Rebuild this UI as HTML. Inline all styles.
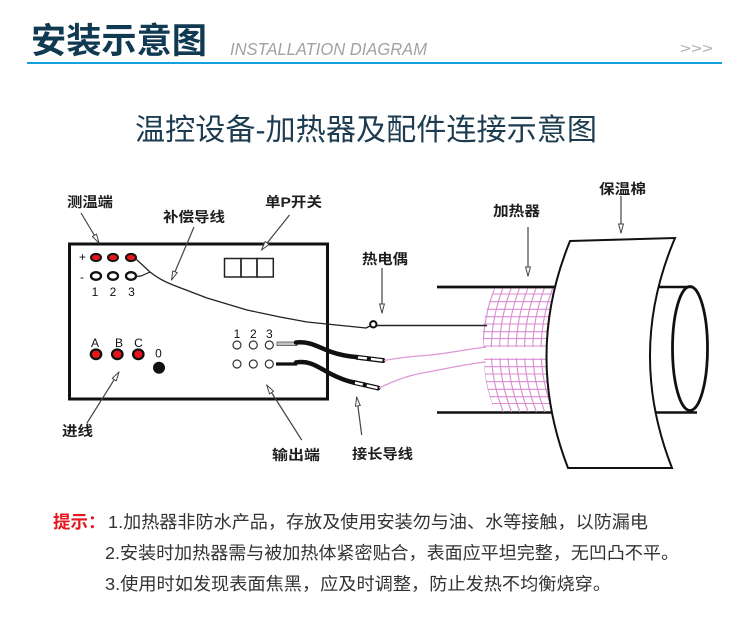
<!DOCTYPE html>
<html>
<head>
<meta charset="utf-8">
<style>
html,body{margin:0;padding:0;background:#fff;}
body{width:750px;height:636px;overflow:hidden;}
svg{display:block;}
.lbl{font-family:"Liberation Sans","Noto Sans CJK SC",sans-serif;font-weight:bold;font-size:14px;fill:#1e1e1e;}
.sm{font-family:"Liberation Sans",sans-serif;font-size:12px;fill:#111;}
.tip{font-family:"Liberation Sans","Noto Sans CJK SC",sans-serif;font-size:17.5px;fill:#333;}
</style>
</head>
<body>
<svg width="750" height="636" viewBox="0 0 750 636" xmlns="http://www.w3.org/2000/svg">
  <defs>
    <marker id="ah" viewBox="0 0 10 6" refX="9.5" refY="3" markerWidth="10" markerHeight="6" markerUnits="userSpaceOnUse" orient="auto">
      <path d="M0.5,0.6 L9.5,3 L0.5,5.4 Z" fill="#fff" stroke="#444" stroke-width="1"/>
    </marker>
    <clipPath id="meshclip">
      <path d="M495,287 Q480,318 483.5,347 L560,347 L560,287 Z"/>
      <path d="M484,358 Q484,388 496,412 L560,412 L560,358 Z"/>
    </clipPath>
  </defs>

  <!-- Header -->
  <text x="31" y="53" font-family="'Liberation Sans','Noto Sans CJK SC',sans-serif" font-size="35" font-weight="bold" fill="#0f3a52" textLength="176" lengthAdjust="spacingAndGlyphs">安装示意图</text>
  <text x="230" y="55" font-family="'Liberation Sans',sans-serif" font-size="17.5" font-style="italic" fill="#a2a2a2" textLength="197" lengthAdjust="spacingAndGlyphs">INSTALLATION DIAGRAM</text>
  <text x="680" y="53" font-family="'Liberation Sans',sans-serif" font-size="14" fill="#aaa" textLength="33" lengthAdjust="spacingAndGlyphs">&gt;&gt;&gt;</text>
  <line x1="27" y1="63" x2="722" y2="63" stroke="#14a0de" stroke-width="2"/>

  <!-- Subtitle -->
  <text x="135" y="140" font-family="'Liberation Sans','Noto Sans CJK SC',sans-serif" font-size="30" fill="#1d3c50" textLength="462" lengthAdjust="spacingAndGlyphs">温控设备-加热器及配件连接示意图</text>

  <!-- Controller box -->
  <rect x="69.5" y="244" width="258" height="155" fill="#fff" stroke="#111" stroke-width="3"/>

  <!-- sensor terminals -->
  <text x="79" y="261" class="sm" font-size="10">+</text>
  <text x="80" y="281" class="sm" font-size="11">-</text>
  <ellipse cx="96" cy="257.5" rx="5" ry="3.6" fill="#e8151c" stroke="#111" stroke-width="2"/>
  <ellipse cx="113" cy="257.5" rx="5" ry="3.6" fill="#e8151c" stroke="#111" stroke-width="2"/>
  <ellipse cx="131" cy="257.5" rx="5" ry="3.6" fill="#e8151c" stroke="#111" stroke-width="2"/>
  <ellipse cx="96" cy="276" rx="5" ry="3.8" fill="#fff" stroke="#111" stroke-width="2.3"/>
  <ellipse cx="113" cy="276" rx="5" ry="3.8" fill="#fff" stroke="#111" stroke-width="2.3"/>
  <ellipse cx="131" cy="276" rx="5" ry="3.8" fill="#fff" stroke="#111" stroke-width="2.3"/>
  <text x="95" y="296" class="sm" text-anchor="middle">1</text>
  <text x="113" y="296" class="sm" text-anchor="middle">2</text>
  <text x="131.5" y="296" class="sm" text-anchor="middle">3</text>

  <!-- switch -->
  <rect x="224.5" y="258.5" width="16.5" height="18.5" fill="none" stroke="#222" stroke-width="1.5"/>
  <rect x="241" y="258.5" width="16" height="18.5" fill="none" stroke="#222" stroke-width="1.5"/>
  <rect x="257" y="258.5" width="16.3" height="18.5" fill="none" stroke="#222" stroke-width="1.5"/>

  <!-- input terminals -->
  <text x="95" y="347" class="sm" text-anchor="middle" font-size="11">A</text>
  <text x="119" y="347" class="sm" text-anchor="middle" font-size="11">B</text>
  <text x="138.5" y="347" class="sm" text-anchor="middle" font-size="11">C</text>
  <text x="158.5" y="357.5" class="sm" text-anchor="middle" font-size="10.5">0</text>
  <ellipse cx="96" cy="354.3" rx="5.2" ry="4.8" fill="#e8151c" stroke="#111" stroke-width="2.3"/>
  <ellipse cx="117.3" cy="354.3" rx="5.2" ry="4.8" fill="#e8151c" stroke="#111" stroke-width="2.3"/>
  <ellipse cx="138.3" cy="354.3" rx="5.2" ry="4.8" fill="#e8151c" stroke="#111" stroke-width="2.3"/>
  <circle cx="159" cy="367.7" r="6" fill="#111"/>

  <!-- output terminals -->
  <text x="237" y="338" class="sm" text-anchor="middle" font-size="11">1</text>
  <text x="253.3" y="338" class="sm" text-anchor="middle" font-size="11">2</text>
  <text x="269.3" y="338" class="sm" text-anchor="middle" font-size="11">3</text>
  <circle cx="237" cy="345" r="4" fill="#fff" stroke="#333" stroke-width="1.2"/>
  <circle cx="253.3" cy="345" r="4" fill="#fff" stroke="#333" stroke-width="1.2"/>
  <circle cx="269.3" cy="345" r="4" fill="#fff" stroke="#333" stroke-width="1.2"/>
  <circle cx="237" cy="364" r="4" fill="#fff" stroke="#333" stroke-width="1.2"/>
  <circle cx="253.3" cy="364" r="4" fill="#fff" stroke="#333" stroke-width="1.2"/>
  <circle cx="269.3" cy="364" r="4" fill="#fff" stroke="#333" stroke-width="1.2"/>

  <!-- compensation wire -->
  <path d="M136,259 L150,272 M136,276.5 L141,276 L150,272" fill="none" stroke="#222" stroke-width="1.2"/>
  <path d="M150,272 Q160,280 173,285 L207,298 L247,310 L280,317 L307,322 L366,328 L371,325.5" fill="none" stroke="#222" stroke-width="1.3" stroke-linejoin="round"/>

  <!-- pipe -->
  <line x1="437" y1="287" x2="693" y2="287" stroke="#111" stroke-width="2.5"/>
  <line x1="437" y1="412.5" x2="697" y2="412.5" stroke="#111" stroke-width="2.5"/>

  <!-- heater mesh -->
  <g clip-path="url(#meshclip)" stroke="#d98cd2" stroke-width="1.1" fill="none">
    <path d="M495,287 Q471,350 495,412"/>
    <path d="M503.3,287 Q479.3,350 503.3,412"/>
    <path d="M511.6,287 Q487.6,350 511.6,412"/>
    <path d="M519.9,287 Q495.9,350 519.9,412"/>
    <path d="M528.2,287 Q504.2,350 528.2,412"/>
    <path d="M536.5,287 Q512.5,350 536.5,412"/>
    <path d="M544.8,287 Q520.8,350 544.8,412"/>
    <path d="M553.1,287 Q529.1,350 553.1,412"/>
    <line x1="470" y1="294" x2="560" y2="294"/>
    <line x1="470" y1="301.7" x2="560" y2="301.7"/>
    <line x1="470" y1="309.3" x2="560" y2="309.3"/>
    <line x1="470" y1="316.7" x2="560" y2="316.7"/>
    <line x1="470" y1="324" x2="560" y2="324"/>
    <line x1="470" y1="331.7" x2="560" y2="331.7"/>
    <line x1="470" y1="338.5" x2="560" y2="338.5"/>
    <line x1="470" y1="346" x2="560" y2="346"/>
    <line x1="470" y1="359.3" x2="560" y2="359.3"/>
    <line x1="470" y1="366.7" x2="560" y2="366.7"/>
    <line x1="470" y1="374" x2="560" y2="374"/>
    <line x1="470" y1="381.7" x2="560" y2="381.7"/>
    <line x1="470" y1="389.3" x2="560" y2="389.3"/>
    <line x1="470" y1="396.7" x2="560" y2="396.7"/>
    <line x1="470" y1="403.5" x2="560" y2="403.5"/>
  </g>
  <line x1="437" y1="287" x2="560" y2="287" stroke="#111" stroke-width="2.5"/>

  <!-- thermocouple -->
  <line x1="376" y1="325.5" x2="487" y2="325.5" stroke="#222" stroke-width="1.4"/>
  <circle cx="373.3" cy="324.3" r="3.2" fill="#fff" stroke="#111" stroke-width="2"/>

  <!-- output cables -->
  <rect x="277" y="342" width="20" height="3.6" fill="#c4c4c4" stroke="#555" stroke-width="0.8"/>
  <path d="M296,342.5 C310,341 318,347 330,351.5 C340,355 348,356.5 358,357.3" fill="none" stroke="#111" stroke-width="4.5" stroke-linecap="round"/>
  <line x1="357" y1="357.3" x2="383" y2="360.5" stroke="#111" stroke-width="5" stroke-linecap="round"/>
  <line x1="358" y1="357.4" x2="382.5" y2="360.4" stroke="#fff" stroke-width="2.4" stroke-dasharray="9 4 13"/>
  <line x1="276" y1="364" x2="297" y2="364" stroke="#111" stroke-width="3.2"/>
  <path d="M296,362.5 C311,360 319,368 331,374 C340,378.5 346,381 354,382.5" fill="none" stroke="#111" stroke-width="4.5" stroke-linecap="round"/>
  <line x1="354" y1="382.5" x2="378" y2="388" stroke="#111" stroke-width="5" stroke-linecap="round"/>
  <line x1="355" y1="382.8" x2="377.5" y2="387.9" stroke="#fff" stroke-width="2.4" stroke-dasharray="8 4 12"/>

  <!-- pink leads -->
  <path d="M384,360.5 C398,358 408,356.5 425,355.5 C445,354 462,350 486,347" fill="none" stroke="#dc98d4" stroke-width="1.3"/>
  <path d="M379,388 C392,382 405,376 425,372.5 C448,368.5 465,364 486,362" fill="none" stroke="#dc98d4" stroke-width="1.3"/>

  <!-- insulation -->
  <path d="M570,241 L675,238 Q626.5,352 672,468 L568,468 Q524,354 570,241 Z" fill="#fff" stroke="#111" stroke-width="2"/>
  <ellipse cx="690" cy="348.5" rx="17.5" ry="62" fill="none" stroke="#111" stroke-width="2.8"/>

  <!-- arrows -->
  <g stroke="#444" stroke-width="1.2" fill="none" marker-end="url(#ah)">
    <line x1="81" y1="213" x2="99" y2="243"/>
    <line x1="194" y1="227" x2="171.5" y2="280"/>
    <line x1="289.5" y1="215" x2="261.5" y2="250"/>
    <line x1="87" y1="423" x2="119" y2="372"/>
    <line x1="301.7" y1="440" x2="266.7" y2="385"/>
    <line x1="382" y1="268" x2="382" y2="313"/>
    <line x1="528" y1="227" x2="528" y2="276"/>
    <line x1="621" y1="196" x2="621" y2="233"/>
    <line x1="361.7" y1="435" x2="356.7" y2="397"/>
  </g>

  <!-- labels -->
  <text x="67" y="207" class="lbl" textLength="46" lengthAdjust="spacingAndGlyphs">测温端</text>
  <text x="163" y="222" class="lbl" textLength="62" lengthAdjust="spacingAndGlyphs">补偿导线</text>
  <text x="265" y="207" class="lbl" textLength="57" lengthAdjust="spacingAndGlyphs">单P开关</text>
  <text x="62" y="436" class="lbl" textLength="31" lengthAdjust="spacingAndGlyphs">进线</text>
  <text x="272" y="460" class="lbl" textLength="48" lengthAdjust="spacingAndGlyphs">输出端</text>
  <text x="362" y="264" class="lbl" textLength="46" lengthAdjust="spacingAndGlyphs">热电偶</text>
  <text x="493" y="216" class="lbl" textLength="47" lengthAdjust="spacingAndGlyphs">加热器</text>
  <text x="599" y="194" class="lbl" textLength="47" lengthAdjust="spacingAndGlyphs">保温棉</text>
  <text x="352" y="459" class="lbl" textLength="61" lengthAdjust="spacingAndGlyphs">接长导线</text>

  <!-- tips -->
  <text x="53" y="528" font-family="'Liberation Sans','Noto Sans CJK SC',sans-serif" font-size="17.5" font-weight="bold" fill="#e5161d">提示：</text>
  <text x="108" y="528" class="tip" textLength="540" lengthAdjust="spacingAndGlyphs">1.加热器非防水产品，存放及使用安装勿与油、水等接触，以防漏电</text>
  <text x="105" y="559" class="tip" textLength="574" lengthAdjust="spacingAndGlyphs">2.安装时加热器需与被加热体紧密贴合，表面应平坦完整，无凹凸不平。</text>
  <text x="105" y="590" class="tip" textLength="506" lengthAdjust="spacingAndGlyphs">3.使用时如发现表面焦黑，应及时调整，防止发热不均衡烧穿。</text>
</svg>
</body>
</html>
